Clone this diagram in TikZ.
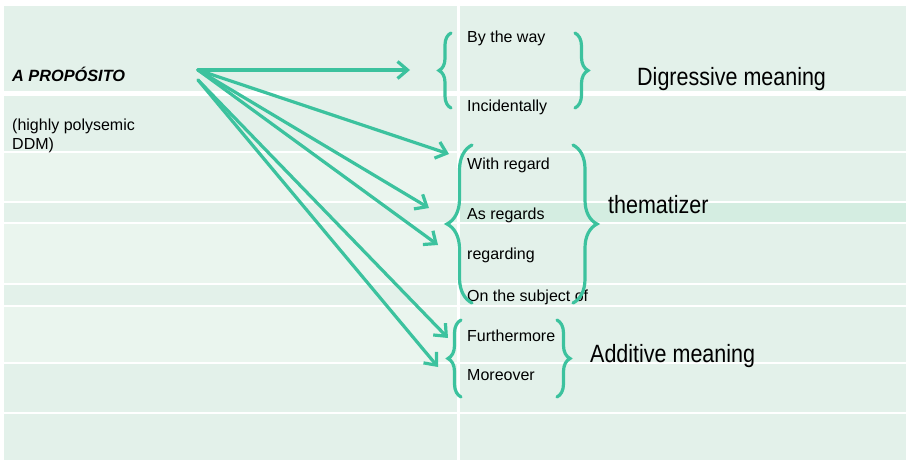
\documentclass[tikz,border=0pt]{standalone}
\usepackage{fontspec}
\setmainfont{Liberation Sans}
\newfontfamily\meanfont[FakeStretch=0.86]{Liberation Sans}
\usepackage{xcolor}
\definecolor{mint}{HTML}{3CC29E}
\definecolor{cellA}{HTML}{E3F1EA}
\definecolor{cellB}{HTML}{EAF5EE}
\definecolor{cellC}{HTML}{D4EDE1}
\usetikzlibrary{arrows.meta,decorations.pathreplacing}

\begin{document}
\begin{tikzpicture}[x=1pt,y=-1pt,
  arr/.style={mint, line width=3.2pt, line cap=round, -{Straight Barb[length=10pt,width=17pt]}},
  brc/.style={mint, line width=3.2pt, line cap=round, decorate, decoration={brace,amplitude=#1}},
  word/.style={anchor=base west, inner sep=0pt, font=\fontsize{16}{20}\selectfont},
  mean/.style={anchor=base west, inner sep=0pt, font=\meanfont\fontsize{25}{30}\selectfont}]
\useasboundingbox (0,0) rectangle (906,460);

%%% table cells: top, bottom, left colour, right colour
\foreach \ya/\yb/\cl/\cr in {6/91/cellA/cellA, 96/151/cellA/cellA, 153/201/cellB/cellA,
    203/222/cellA/cellC, 224/283/cellB/cellA, 285/305/cellA/cellA, 307/362/cellB/cellA,
    364/412/cellA/cellA, 414/460/cellA/cellA}{
  \fill[\cl] (4,\ya) rectangle (457,\yb);
  \fill[\cr] (459.5,\ya) rectangle (906,\yb);
}

%%% left column
\node[anchor=base west, inner sep=0pt, font=\bfseries\itshape\fontsize{16.3}{20}\selectfont] (apropos) at (12,82) {A PROPÓSITO};
\node[anchor=north west, inner sep=0pt, align=left, font=\fontsize{16}{19.5}\selectfont] (ddm) at (12,118.5) {(highly polysemic\\DDM)};

%%% right column: equivalents
\node[word] (way) at (467,43) {By the way};
\node[word] (incid) at (467,111) {Incidentally};
\node[word] (withr) at (467,169) {With regard};
\node[word] (asr) at (467,219) {As regards};
\node[word] (regd) at (467,259) {regarding};
\node[word] (subj) at (467,301) {On the subject of};
\node[word] (furth) at (467,341) {Furthermore};
\node[word] (morev) at (467,380) {Moreover};

%%% meanings
\node[mean] (digr) at (637,85) {Digressive meaning};
\node[mean] (them) at (608,213) {thematizer};
\node[mean] (addit) at (590,362) {Additive meaning};

%%% braces
\draw[brc=12pt] (451,108) -- (451,33);   % digressive
\draw[brc=13pt] (575,33) -- (575,108);
\draw[brc=25pt] (472,303) -- (472,145);  % thematizer
\draw[brc=24pt] (573,145) -- (573,303);
\draw[brc=13pt] (461,397) -- (461,320);  % additive
\draw[brc=13pt] (557,320) -- (557,397);

%%% arrows
\coordinate (src) at (198,70);
\coordinate (srcb) at (198,80);
\coordinate (toway) at (410,70);
\coordinate (towith) at (449,154);
\coordinate (toas) at (429,208);
\coordinate (toregd) at (438,245);
\coordinate (tofurth) at (448,338);
\coordinate (tomore) at (438,367);
\draw[arr] (src) -- (toway);
\draw[arr] (src) -- (towith);
\draw[arr] (src) -- (toas);
\draw[arr] (src) -- (toregd);
\draw[arr] (srcb) -- (tofurth);
\draw[arr] (srcb) -- (tomore);
\end{tikzpicture}
\end{document}
